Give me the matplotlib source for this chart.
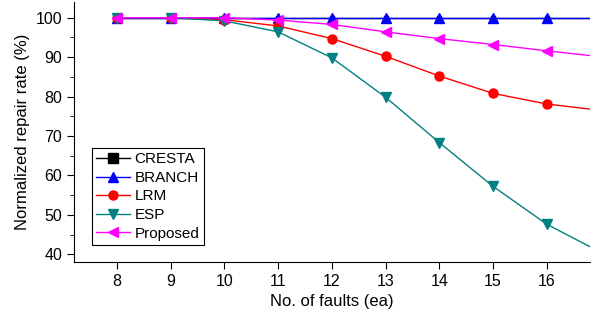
import numpy as np
import matplotlib.pyplot as plt
from matplotlib.lines import Line2D
from matplotlib.ticker import MultipleLocator

plt.rcParams['font.family'] = ['Liberation Sans', 'DejaVu Sans']

# Data
faults = [8, 9, 10, 11, 12, 13, 14, 15, 16, 17]
cresta = [100, 100, 100, 100, 100, 100, 100, 100, 100, 100]
branch = [100, 100, 100, 100, 100, 100, 100, 100, 100, 100]
lrm = [100, 100, 99.5, 97.9, 94.7, 90.2, 85.2, 80.8, 78.1, 76.5]
esp = [100, 100, 99.2, 96.4, 89.8, 79.8, 68.3, 57.2, 47.6, 40.5]
proposed = [100, 100, 100, 99.4, 98.3, 96.4, 94.7, 93.2, 91.6, 90.1]

fig = plt.figure(figsize=(5.94, 3.22), dpi=100)
ax = fig.add_axes([0.1246, 0.186, 0.8684, 0.808])

styles = [
    ('CRESTA', cresta, 'black', 's'),
    ('BRANCH', branch, 'blue', '^'),
    ('LRM', lrm, 'red', 'o'),
    ('ESP', esp, '#008080', 'v'),
    ('Proposed', proposed, 'magenta', '<'),
]

handles = []
for name, vals, col, mk in styles:
    # CRESTA sits exactly under BRANCH, its markers are hidden in the reference
    size = 3 if name == 'CRESTA' else 6.5
    ax.plot(faults, vals, color=col, marker=mk, ms=size, lw=1)
    handles.append(Line2D([], [], color=col, marker=mk, ms=6.5, lw=1, label=name))

ax.set_xlim(7.2, 16.8)
ax.set_ylim(38, 104)
ax.set_xticks(range(8, 17))
ax.set_yticks(range(40, 101, 10))
ax.yaxis.set_minor_locator(MultipleLocator(5))
ax.tick_params(direction='out', labelsize=11.5, length=5)
ax.tick_params(which='minor', direction='out', length=3)
ax.spines['top'].set_visible(False)
ax.spines['right'].set_visible(False)

ax.set_xlabel('No. of faults (ea)', fontsize=12)
ax.set_ylabel('Normalized repair rate (%)', fontsize=12)

leg = ax.legend(handles=handles, loc='lower left', bbox_to_anchor=(0.034, 0.065),
                fontsize=11, fancybox=False, edgecolor='black', framealpha=1,
                handlelength=2.2, borderaxespad=0, labelspacing=0.3,
                handletextpad=0.3, borderpad=0.3)
leg.get_frame().set_linewidth(0.8)

fig.savefig('out.png', dpi=100)
